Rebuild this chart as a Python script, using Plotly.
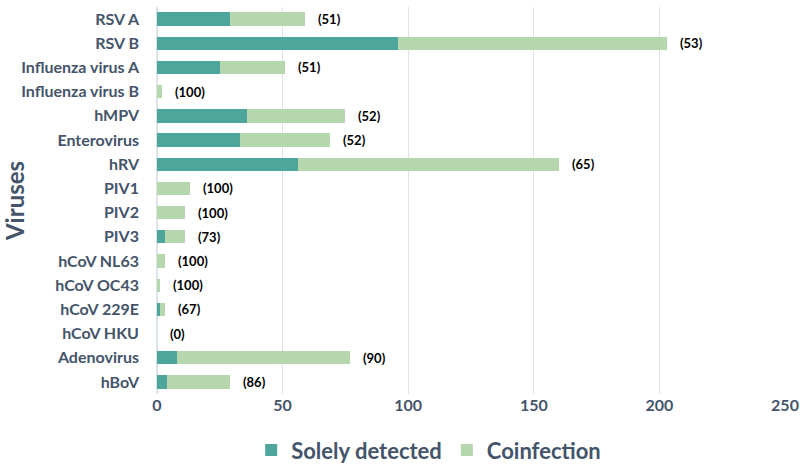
import plotly.graph_objects as go

viruses = ["RSV A", "RSV B", "Influenza virus A", "Influenza virus B", "hMPV",
           "Enterovirus", "hRV", "PIV1", "PIV2", "PIV3", "hCoV NL63", "hCoV OC43",
           "hCoV 229E", "hCoV HKU", "Adenovirus", "hBoV"]
solely = [29, 96, 25, 0, 36, 33, 56, 0, 0, 3, 0, 0, 1, 0, 8, 4]
coinfection = [30, 107, 26, 2, 39, 36, 104, 13, 11, 8, 3, 1, 2, 0, 69, 25]
pct_labels = ["(51)", "(53)", "(51)", "(100)", "(52)", "(52)", "(65)", "(100)", "(100)",
              "(73)", "(100)", "(100)", "(67)", "(0)", "(90)", "(86)"]
x_ticks = [0, 50, 100, 150, 200, 250]

TEXT = "#44546A"
FONT = "Lato"

fig = go.Figure()
fig.add_trace(go.Bar(y=viruses, x=solely, orientation="h", name="Solely detected",
                     marker=dict(color="#4DA69C", line=dict(width=0))))
fig.add_trace(go.Bar(y=viruses, x=coinfection, orientation="h", name="Coinfection",
                     marker=dict(color="#B6D6AD", line=dict(width=0))))

for v, s, c, t in zip(viruses, solely, coinfection, pct_labels):
    fig.add_annotation(x=s + c, y=v, text="<b>%s</b>" % t, showarrow=False,
                       xanchor="left", xshift=11,
                       font=dict(family=FONT, size=13, color="#000000"))

fig.update_layout(
    barmode="stack",
    bargap=0.45,
    width=800, height=464,
    margin=dict(l=157, r=15, t=7, b=70, autoexpand=False),
    plot_bgcolor="white", paper_bgcolor="white",
    font=dict(family=FONT, color=TEXT),
    legend=dict(orientation="h", x=0.15, xanchor="left", y=-0.145, yanchor="middle",
                traceorder="normal",
                font=dict(family=FONT, size=22, color=TEXT, weight="bold"), itemwidth=30),
    xaxis=dict(range=[0, 250], tickvals=x_ticks, showgrid=True, gridcolor="#DDE3EA",
               gridwidth=1, zeroline=True, zerolinecolor="#DDE3EA", showline=False,
               automargin=False, ticklabeloverflow="allow",
               tickfont=dict(family=FONT, size=16, color=TEXT, weight="bold")),
    yaxis=dict(autorange="reversed", showgrid=False, ticklabelstandoff=17, automargin=False,
               tickfont=dict(family=FONT, size=16, color=TEXT, weight="bold"),
               title=dict(text="<b>Viruses</b>", standoff=2,
                          font=dict(family=FONT, size=24, color=TEXT))),
)

fig.write_html("out.html", post_script="document.body.style.margin='0px';",
               config={"displayModeBar": False})
